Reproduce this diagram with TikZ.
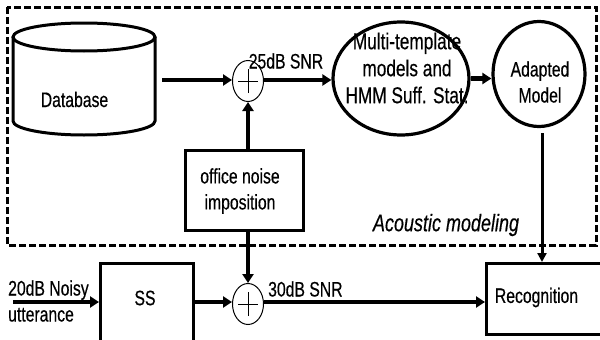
\documentclass[tikz,border=0pt]{standalone}
\usepackage{fontspec}
\setmainfont{Liberation Sans}[FakeStretch=0.75,FakeBold=0.4]
\usetikzlibrary{arrows.meta,shapes.geometric}
\begin{document}
\begin{tikzpicture}[x=1pt,y=-1pt,
  txt/.style={font=\fontsize{21}{26}\selectfont, align=center, inner sep=0pt},
  bigtxt/.style={font=\fontsize{23}{27}\selectfont, align=center, inner sep=0pt},
  thickarr/.style={line width=4.2pt, -{Triangle[length=9pt,width=11pt]}},
  thinarr/.style={line width=3pt, -{Triangle[length=9pt,width=9pt]}},
  sumnode/.style={ellipse, draw, line width=1pt, minimum width=31pt, minimum height=41pt, inner sep=0pt, fill=white},
  boxnode/.style={draw, line width=3pt, inner sep=0pt, fill=white},
  bignode/.style={ellipse, draw, line width=3.2pt, inner sep=0pt}]
\clip (0,0) rectangle (600,340);
\fill[white] (0,0) rectangle (600,340);

% dashed region
\draw[line width=3pt, dash pattern=on 7pt off 3pt] (7,7) rectangle (596,245);

% database cylinder
\node[minimum width=142pt, minimum height=112pt, inner sep=0pt] (db) at (84,79) {};
\draw[line width=3pt] (13,37) -- (13,121) arc[start angle=180, end angle=360, x radius=71pt, y radius=14pt] -- (155,37);
\draw[line width=3pt] (84,37) ellipse [x radius=71pt, y radius=14pt];
\node[txt] (dbt) at (74.5,99.5) {Database};

% sum nodes
\node[sumnode] (s1) at (248,81) {};
\draw[line width=0.8pt] (s1.center) +(-10pt,0) -- +(10pt,0);
\draw[line width=0.8pt] (s1.center) +(0,-12pt) -- +(0,12pt);
\node[sumnode] (s2) at (248,304) {};
\draw[line width=0.8pt] (s2.center) +(-10pt,0) -- +(10pt,0);
\draw[line width=0.8pt] (s2.center) +(0,-12pt) -- +(0,12pt);

% multi-template ellipse
\node[bignode, minimum width=136pt, minimum height=113pt] (mt) at (401,78.5) {};
\node[bigtxt] (mtt) at (407,68) {Multi-template\\models and\\HMM Suff. Stat.};

% adapted model
\node[bignode, minimum width=92pt, minimum height=105pt] (ad) at (539,74) {};
\node[txt] (adt) at (540,82) {Adapted\\Model};

% noise box
\node[boxnode, minimum width=118pt, minimum height=80pt] (nb) at (244,190) {};
\node[txt] (nbt) at (240,191) {office noise\\imposition};

% SS box
\node[boxnode, minimum width=93pt, minimum height=90pt, anchor=north west] (ss) at (99,262) {};
\node[txt] (sst) at (145,298) {SS};

% recognition box
\node[boxnode, minimum width=125pt, minimum height=71pt, anchor=north west] (rec) at (485,262) {};
\node[txt] (rect) at (536.5,297.5) {Recognition};

% labels
\node[txt] (l25) at (286,61) {25dB SNR};
\node[txt, anchor=west] (l30) at (268,289) {30dB SNR};
\node[txt, anchor=west, align=left] (lin) at (8,301) {20dB Noisy\\utterance};
\node[font=\fontsize{24}{26}\selectfont\itshape, inner sep=0pt] (am) at (446,225) {Acoustic modeling};

% connectors
\coordinate (dbout) at (162,80);
\draw[thickarr] (dbout) -- (dbout -| s1.west);
\draw[thickarr] (s1.east |- dbout) -- (dbout -| mt.west);
\draw[thickarr] (mt.east) -- (mt.east -| ad.west);
\draw[thickarr] (nb.north -| s1) -- (s1.south);
\draw[thickarr] (nb.south -| s2) -- (s2.north);
\coordinate (inp) at (13,302);
\draw[thickarr] (inp) -- (inp -| ss.west);
\draw[thickarr] (ss.east |- inp) -- (inp -| s2.west);
\draw[thickarr] (s2.east |- inp) -- (inp -| rec.west);
\coordinate (adbot) at (542,133);
\draw[thinarr] (adbot) -- (adbot |- rec.north);
\end{tikzpicture}
\end{document}
